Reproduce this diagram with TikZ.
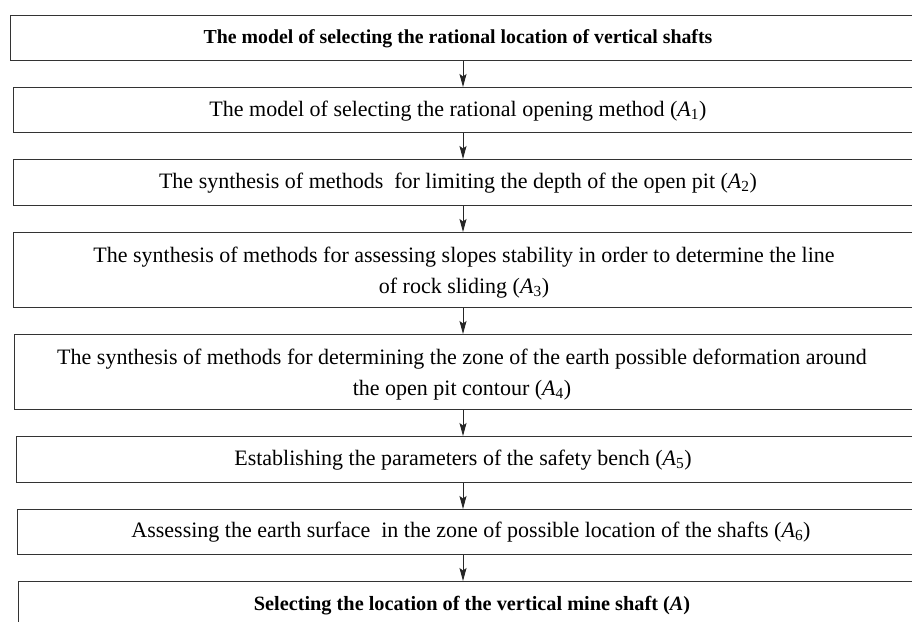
\documentclass[tikz,border=0pt]{standalone}
\usepackage{fontspec}
\setmainfont{Liberation Serif}
\usetikzlibrary{arrows.meta}
\newcommand\Asub[1]{\textit{A}\textsubscript{#1}}
\tikzset{
  box/.style={draw=black!80, line width=1.3pt, rectangle, inner sep=0pt, anchor=north west},
  txt/.style={font=\fontsize{22}{31}\selectfont, align=center, inner sep=0pt, anchor=base},
  btxt/.style={txt, font=\fontsize{20.3}{31}\selectfont\bfseries},
  arr/.style={draw=black!85, line width=0.9pt, -{Stealth[length=13pt,width=7pt,inset=2.5pt]}}
}
\begin{document}
\begin{tikzpicture}[x=1pt,y=-1pt]
\useasboundingbox (0,0) rectangle (912,621);
\clip (0,0) rectangle (912,621);
\fill[white] (0,0) rectangle (912,621);
% boxes
\node[box, minimum width=920pt, minimum height=45pt] (b1) at (10,15) {};
\node[box, minimum width=920pt, minimum height=45pt] (b2) at (13,87) {};
\node[box, minimum width=920pt, minimum height=46pt] (b3) at (13,159) {};
\node[box, minimum width=920pt, minimum height=75pt] (b4) at (13,232) {};
\node[box, minimum width=920pt, minimum height=75pt] (b5) at (14,334) {};
\node[box, minimum width=920pt, minimum height=46pt] (b6) at (16,436) {};
\node[box, minimum width=920pt, minimum height=45pt] (b7) at (17,509) {};
\node[box, minimum width=920pt, minimum height=60pt] (b8) at (18,581) {};
% texts
\node[btxt, font=\fontsize{19.8}{31}\selectfont\bfseries] (t1) at (458,43) {The model of selecting the rational location of vertical shafts};
\node[txt] (t2) at (458,116) {The model of selecting the rational opening method (\Asub{1})};
\node[txt] (t3) at (458,188) {The synthesis of methods~ for limiting the depth of the open pit (\Asub{2})};
\node[txt] (t4) at (464,293) {The synthesis of methods for assessing slopes stability in order to determine the line\\of rock sliding (\Asub{3})};
\node[txt] (t5) at (462,395) {The synthesis of methods for determining the zone of the earth possible deformation around\\the open pit contour (\Asub{4})};
\node[txt] (t6) at (463,465) {Establishing the parameters of the safety bench (\Asub{5})};
\node[txt] (t7) at (471,537) {Assessing the earth surface~ in the zone of possible location of the shafts (\Asub{6})};
\node[btxt] (t8) at (472,610) {Selecting the location of the vertical mine shaft (\textit{A})};
% arrows
\coordinate (ax) at (463,0);
\draw[arr] (b1.south -| ax) -- (b2.north -| ax);
\draw[arr] (b2.south -| ax) -- (b3.north -| ax);
\draw[arr] (b3.south -| ax) -- (b4.north -| ax);
\draw[arr] (b4.south -| ax) -- (b5.north -| ax);
\draw[arr] (b5.south -| ax) -- (b6.north -| ax);
\draw[arr] (b6.south -| ax) -- (b7.north -| ax);
\draw[arr] (b7.south -| ax) -- (b8.north -| ax);
\end{tikzpicture}
\end{document}
